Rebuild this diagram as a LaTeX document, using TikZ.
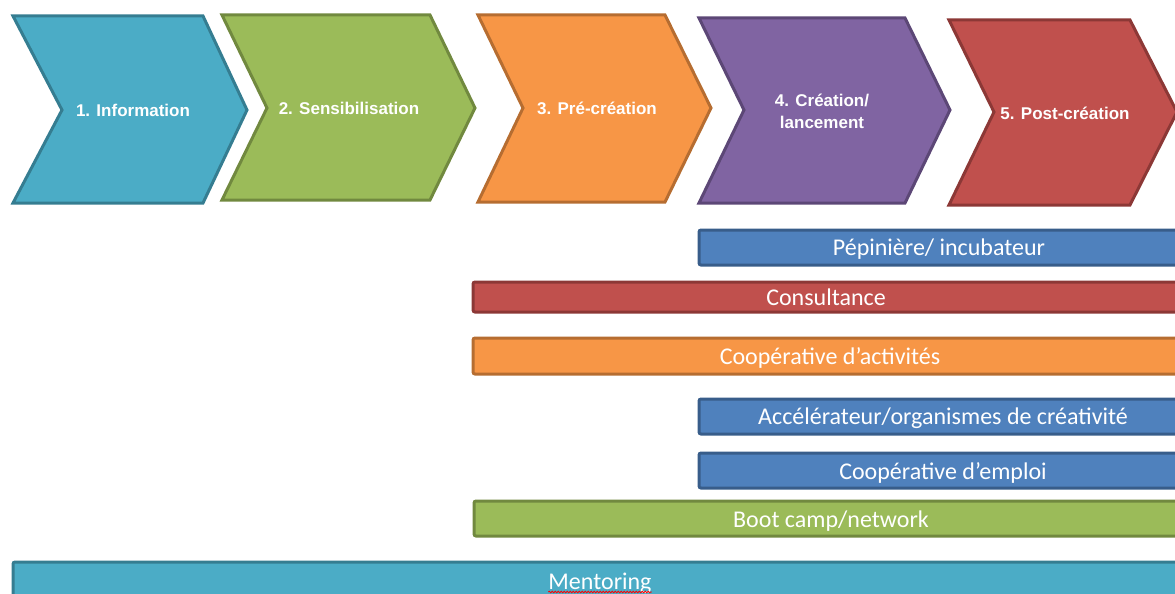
\documentclass[tikz,border=0pt]{standalone}
\usepackage{fontspec}
\setmainfont{Carlito}
\newfontfamily\arialfont{Liberation Sans}
\usetikzlibrary{decorations.pathmorphing}
\definecolor{aquaF}{HTML}{4BACC6}\definecolor{aquaD}{HTML}{357D91}
\definecolor{greenF}{HTML}{9BBB59}\definecolor{greenD}{HTML}{71893F}
\definecolor{orangeF}{HTML}{F79646}\definecolor{orangeD}{HTML}{B66D31}
\definecolor{purpleF}{HTML}{8064A2}\definecolor{purpleD}{HTML}{5C4776}
\definecolor{redF}{HTML}{C0504D}\definecolor{redD}{HTML}{8C3836}
\definecolor{blueF}{HTML}{4F81BD}\definecolor{blueD}{HTML}{385D8A}
\tikzset{
  chev/.style={line width=3pt, line join=miter},
  chevtext/.style={text=white, font=\arialfont\bfseries\fontsize{17}{22}\selectfont, align=center, inner sep=0pt},
  bar/.style={line width=3pt, rounded corners=2pt},
  bartext/.style={text=white, font=\fontsize{24}{28}\selectfont, inner sep=0pt, anchor=base}
}
\begin{document}
\begin{tikzpicture}[x=1pt,y=-1pt]
\useasboundingbox (0,0) rectangle (1175,594);
\clip (0,0) rectangle (1175,594);
% chevrons
\draw[chev, fill=aquaF, draw=aquaD] (13,16) -- (203,16) -- (247,110) -- (203,203) -- (13,203) -- (62,110) -- cycle;
\draw[chev, fill=greenF, draw=greenD] (222,15) -- (430,15) -- (475,108) -- (430,200) -- (222,200) -- (267,108) -- cycle;
\draw[chev, fill=orangeF, draw=orangeD] (478,15) -- (665,15) -- (711,108) -- (665,202) -- (478,202) -- (523,108) -- cycle;
\draw[chev, fill=purpleF, draw=purpleD] (699,18) -- (905,18) -- (950,110) -- (905,203) -- (699,203) -- (744,110) -- cycle;
\draw[chev, fill=redF, draw=redD] (949,20) -- (1130,20) -- (1177,112) -- (1130,205) -- (949,205) -- (994,112) -- cycle;
\node[chevtext] (c1) at (133,110) {1. Information};
\node[chevtext] (c2) at (349,108) {2. Sensibilisation};
\node[chevtext] (c3) at (597,108) {3. Pré-création};
\node[chevtext] (c4) at (822,111) {4. Création/\\lancement};
\node[chevtext] (c5) at (1065,113) {5. Post-création};
% bars
\draw[bar, fill=blueF, draw=blueD] (699,230) rectangle (1190,265);
\node[bartext] (b1) at (939,255) {Pépinière/ incubateur};
\draw[bar, fill=redF, draw=redD] (473,282) rectangle (1190,312);
\node[bartext] (b2) at (826,305) {Consultance};
\draw[bar, fill=orangeF, draw=orangeD] (473,338) rectangle (1190,374);
\node[bartext] (b3) at (830,364) {Coopérative d’activités};
\draw[bar, fill=blueF, draw=blueD] (699,399) rectangle (1190,434);
\node[bartext] (b4) at (943,424) {Accélérateur/organismes de créativité};
\draw[bar, fill=blueF, draw=blueD] (699,453) rectangle (1190,488);
\node[bartext] (b5) at (943,479) {Coopérative d’emploi};
\draw[bar, fill=greenF, draw=greenD] (474,501) rectangle (1190,536);
\node[bartext] (b6) at (831,527) {Boot camp/network};
\draw[bar, fill=aquaF, draw=aquaD] (13,562) rectangle (1190,610);
\node[bartext] (b7) at (600,589) {Mentoring};
\draw[red, line width=0.8pt, decorate, decoration={snake, amplitude=0.8pt, segment length=3pt}] (b7.base west) ++(0,3) -- ([yshift=-3pt]b7.base east);
\end{tikzpicture}
\end{document}
